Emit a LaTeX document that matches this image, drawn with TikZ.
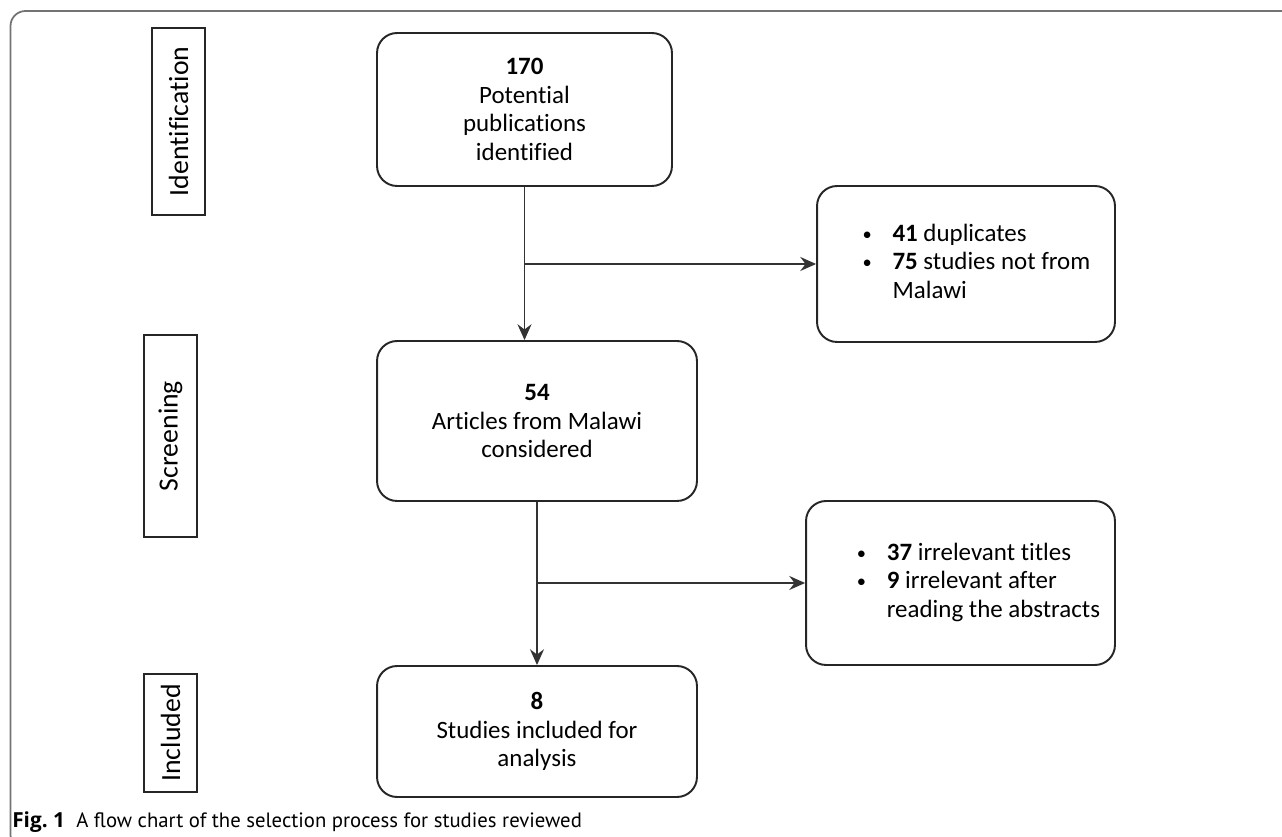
\documentclass[tikz,border=0pt]{standalone}
\usepackage{fontspec}
\setmainfont{Carlito}[RawFeature={-liga;-calt;-dlig}]
\newfontfamily\capfont{PT Sans}
\newfontfamily\figfont{Open Sans}
\usetikzlibrary{arrows.meta}

\newcommand{\dotitem}{\raisebox{0.6pt}{\fontsize{10.5}{10.5}\selectfont\textbullet}}

\begin{document}
\begin{tikzpicture}[x=0.02cm, y=-0.02cm,
    flowbox/.style={draw=black!85, line width=1.1pt, rounded corners=0.4cm, align=center, inner sep=0pt,
        font=\fontsize{14.2}{16.2}\selectfont},
    stagebox/.style={draw=black!85, line width=0.9pt, inner sep=0pt, rotate=90,
        font=\fontsize{15.8}{18}\selectfont},
    flow/.style={draw=black!80, line width=0.8pt, -{Stealth[length=9pt, width=8pt, inset=3pt]}}]
    \useasboundingbox (0,0) rectangle (1282,837);
    \clip (0,0) rectangle (1282,837);
    % frame round the figure
    \draw[black!55, line width=1pt, rounded corners=0.3cm] (10.5,11) rectangle (1320,850);

    % stages
    \node[stagebox, minimum width=3.74cm, minimum height=1.06cm] (ident) at (178.5,121.5) {Identification};
    \node[stagebox, minimum width=4.04cm, minimum height=1.06cm] (screen) at (170.5,436) {Screening};
    \node[stagebox, minimum width=2.36cm, minimum height=1.06cm] (incl) at (170.5,733) {Included};

    % main boxes
    \node[flowbox, minimum width=5.9cm, minimum height=3.06cm] (found) at (524.5,109.5)
        {\textbf{170}\\Potential\\publications\\identified};
    \node[flowbox, minimum width=6.4cm, minimum height=3.2cm] (malawi) at (537,421)
        {\textbf{54}\\Articles from Malawi\\considered};
    \node[flowbox, minimum width=6.4cm, minimum height=2.62cm] (final) at (537,731.5)
        {\textbf{8}\\Studies included for\\analysis};

    % excluded
    \node[flowbox, minimum width=5.96cm, minimum height=3.12cm] (drop1) at (966,264)
        {\hspace*{0.42cm}\begin{tabular}{@{}p{17pt}@{}l@{}}
            \dotitem & \textbf{41} duplicates\\
            \dotitem & \textbf{75} studies not from\\
             & Malawi
        \end{tabular}};
    \node[flowbox, minimum width=6.18cm, minimum height=3.28cm] (drop2) at (960.5,583)
        {\hspace*{0.72cm}\begin{tabular}{@{}p{17pt}@{}l@{}}
            \dotitem & \textbf{37} irrelevant titles\\
            \dotitem & \textbf{9} irrelevant after\\
             & reading the abstracts
        \end{tabular}};

    \coordinate (split1) at (found.south |- drop1.west);
    \coordinate (split2) at (malawi.south |- drop2.west);
    \draw[flow] (found.south) -- (found.south |- malawi.north);
    \draw[flow] (split1) -- (drop1.west);
    \draw[flow] (malawi.south) -- (final.north);
    \draw[flow] (split2) -- (drop2.west);

    \node[anchor=base west, inner sep=0pt, font=\capfont\fontsize{11.8}{14}\selectfont] (caption) at (12,827)
        {{\figfont\bfseries Fig.~1}\hspace{6.5pt}A flow chart of the selection process for studies reviewed};
\end{tikzpicture}
\end{document}
